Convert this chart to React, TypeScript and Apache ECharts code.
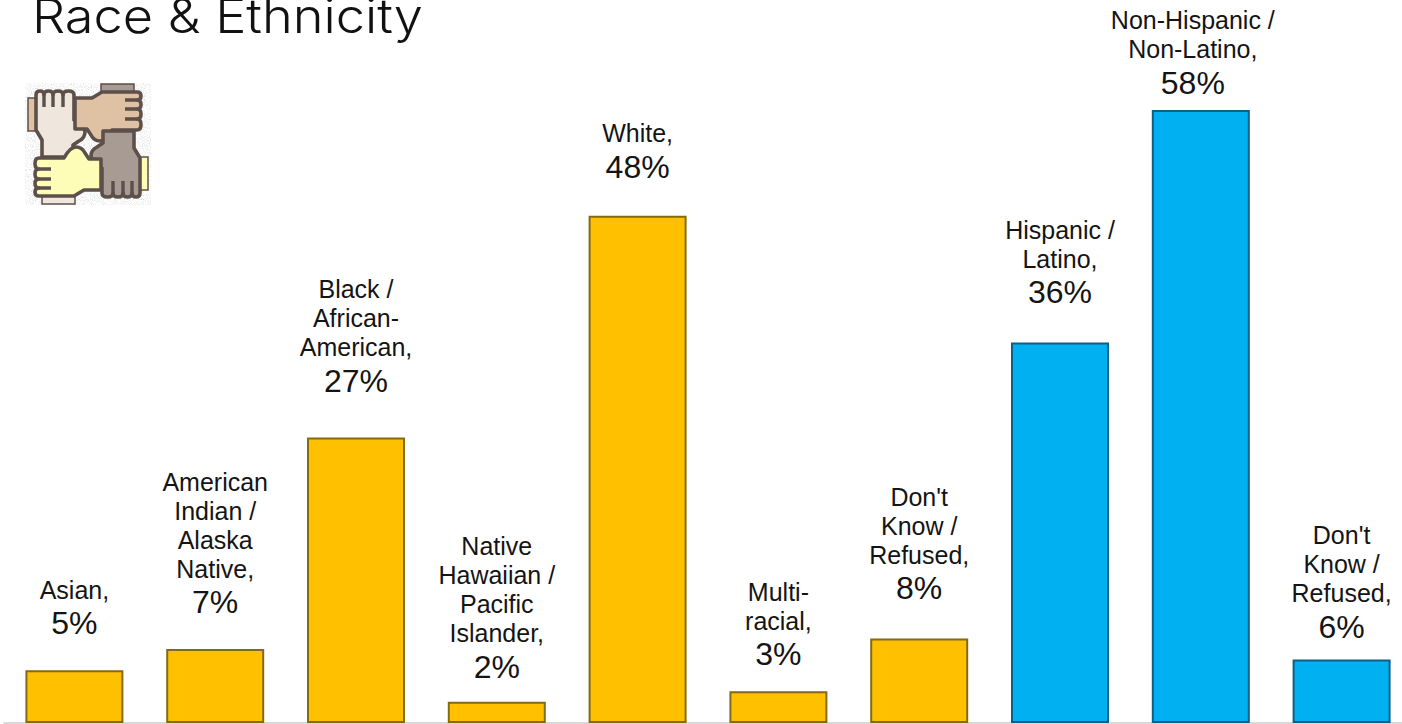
import React, { useEffect, useRef } from "react";
import * as echarts from "echarts";

const titleText = "Race & Ethnicity";

const categoryLines: string[][] = [
  ["Asian,"],
  ["American", "Indian /", "Alaska", "Native,"],
  ["Black /", "African-", "American,"],
  ["Native", "Hawaiian /", "Pacific", "Islander,"],
  ["White,"],
  ["Multi-", "racial,"],
  ["Don't", "Know /", "Refused,"],
  ["Hispanic /", "Latino,"],
  ["Non-Hispanic /", "Non-Latino,"],
  ["Don't", "Know /", "Refused,"],
];
const percentages = [5, 7, 27, 2, 48, 3, 8, 36, 58, 6];
const isEthnicity = [false, false, false, false, false, false, false, true, true, true];

// Gap between each bar's top and its label block; the labels sit by hand, not at one fixed distance.
const labelGaps = [28, 28, 38, 16, 30, 18, 31, 31, 8, 14];
// Sideways nudge of each label block, for the one that sits off its bar's centre.
const labelShifts = [0, 0, 0, 0, 0, 0, 0, 0, -8, 0];

const amber = "#FFC000";
const amberEdge = "#836A14";
const sky = "#00B0F0";
const skyEdge = "#0F5F85";

// One hand, fingers up, drawn around the icon's centre; the other three are quarter turns of it.
const handPath =
  "M-46 13L-46-4L-52-14L-52-49Q-52-53-48-53Q-44-53-44-49Q-44-53-39.5-53Q-35-53-35-49Q-35-53-30-53Q-25-53-25-49Q-25-53-19.5-53Q-14-53-14-49L-14-24Q-3-18-3-12Q-3-6-9-3L-15 1L-15 13Z";
const fingerSplits = "M-44-49V-37M-35-49V-37M-25-49V-37";
const handTints = ["#EFE6DE", "#DFC2A3", "#A89B94", "#FDFDB8"];

function handsIcon(): string {
  const outline = "#5D4F49";
  const turns = handTints.map((fill, i) => ({ fill, angle: i * 90 }));
  const cuffs = turns
    .map(
      ({ fill, angle }) =>
        `<rect transform="rotate(${angle})" x="-46" y="52" width="33" height="8" fill="${fill}" stroke="${outline}" stroke-width="1.5"/>`
    )
    .join("");
  const hands = turns
    .map(
      ({ fill, angle }) =>
        `<g transform="rotate(${angle})"><path d="${handPath}" fill="${fill}" stroke="${outline}" stroke-width="3.6" stroke-linejoin="round"/><path d="${fingerSplits}" fill="none" stroke="${outline}" stroke-width="3.4"/></g>`
    )
    .join("");
  const svg = `<svg xmlns="http://www.w3.org/2000/svg" width="126" height="122" viewBox="-63 -61 126 122"><defs><filter id="g" x="0" y="0" width="100%" height="100%"><feTurbulence type="fractalNoise" baseFrequency="0.9" numOctaves="2" seed="4"/><feColorMatrix values="0 0 0 0 0.72 0 0 0 0 0.72 0 0 0 0 0.72 2.4 0 0 0 -1.05"/></filter><filter id="s"><feGaussianBlur stdDeviation="0.45"/></filter></defs><rect x="-63" y="-61" width="126" height="122" fill="#fff"/><rect x="-63" y="-61" width="126" height="122" filter="url(#g)"/><g filter="url(#s)">${cuffs}${hands}</g></svg>`;
  return "data:image/svg+xml;charset=utf-8," + encodeURIComponent(svg);
}

export default function App() {
  const host = useRef<HTMLDivElement>(null);

  useEffect(() => {
    const chart = echarts.init(host.current!, undefined, { renderer: "svg" });
    chart.setOption({
      animation: false,
      backgroundColor: "#ffffff",
      textStyle: { fontFamily: "Liberation Sans" },
      // The plot runs a little past the page's right edge, so the chart box is wider than the window.
      grid: { left: 4, right: 0, top: 0, bottom: 1 },
      xAxis: {
        type: "category",
        data: categoryLines.map((lines) => lines.join(" ")),
        axisTick: { show: false },
        axisLabel: { show: false },
        axisLine: { show: true, lineStyle: { color: "#D9D9D9", width: 2 } },
      },
      yAxis: { type: "value", min: 0, max: 68.4, show: false },
      series: [
        {
          type: "bar",
          barWidth: 98,
          data: percentages.map((value, i) => ({
            value,
            itemStyle: {
              color: isEthnicity[i] ? sky : amber,
              borderColor: isEthnicity[i] ? skyEdge : amberEdge,
              borderWidth: 2,
            },
            label: {
              distance: labelGaps[i],
              offset: [labelShifts[i], 0],
              formatter: [
                ...categoryLines[i].map((line) => `{name|${line}}`),
                `{pct|${value}%}`,
              ].join("\n"),
            },
          })),
          label: {
            show: true,
            position: "top",
            rich: {
              name: {
                fontFamily: "Liberation Sans",
                fontSize: 25,
                lineHeight: 29,
                color: "#141414",
              },
              pct: {
                fontFamily: "Liberation Sans",
                fontSize: 32,
                lineHeight: 38,
                color: "#141414",
              },
            },
          },
        },
      ],
      graphic: [
        {
          type: "text",
          x: 32,
          y: -9,
          scaleX: 1.09,
          style: {
            text: titleText,
            fontFamily: "Inter",
            fontWeight: 300,
            fontSize: 48,
            fill: "#111111",
          },
        },
        {
          type: "image",
          z: 10,
          style: { image: handsIcon(), x: 25, y: 83, width: 126, height: 122 },
        },
      ],
    });
    return () => chart.dispose();
  }, []);

  return (
    <div style={{ position: "fixed", left: 0, top: 0, width: 1402, height: 724, overflow: "hidden" }}>
      <div ref={host} style={{ width: 1412, height: 724 }} />
    </div>
  );
}
